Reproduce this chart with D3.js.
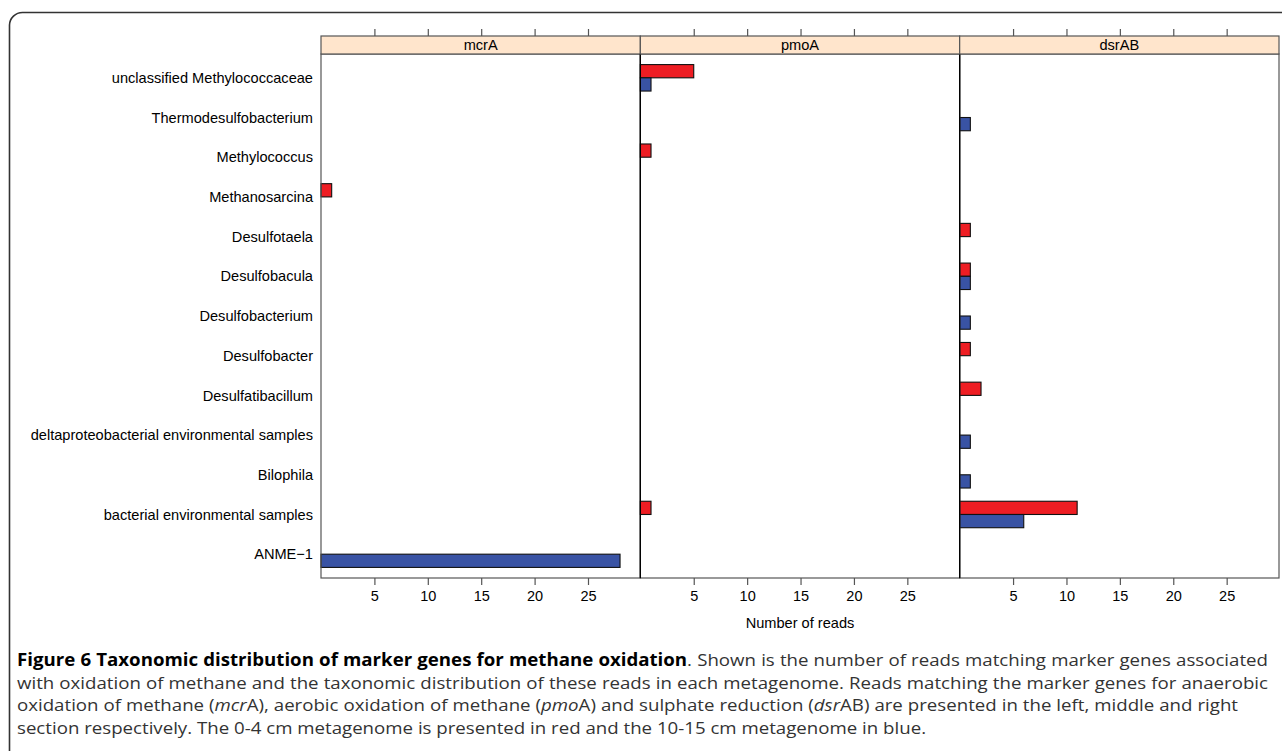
<!DOCTYPE html>
<html>
<head>
<meta charset="utf-8">
<script src="https://cdn.jsdelivr.net/npm/d3@7/dist/d3.min.js"></script>
<style>
  body { margin: 0; background: #fff; }
  svg { display: block; }
</style>
</head>
<body>
<div id="chart"></div>
<script>

// taxa, top to bottom as in the figure
let taxa = ["unclassified Methylococcaceae", "Thermodesulfobacterium", "Methylococcus",
    "Methanosarcina", "Desulfotaela", "Desulfobacula", "Desulfobacterium", "Desulfobacter",
    "Desulfatibacillum", "deltaproteobacterial environmental samples", "Bilophila",
    "bacterial environmental samples", "ANME\u22121"];
let genes = ["mcrA", "pmoA", "dsrAB"];

// 0-4 cm metagenome (red)
let shallowMcrA  = [0, 0, 0, 1, 0, 0, 0, 0, 0, 0, 0, 0, 0];
let shallowPmoA  = [5, 0, 1, 0, 0, 0, 0, 0, 0, 0, 0, 1, 0];
let shallowDsrAB = [0, 0, 0, 0, 1, 1, 0, 1, 2, 0, 0, 11, 0];
// 10-15 cm metagenome (blue)
let deepMcrA  = [0, 0, 0, 0, 0, 0, 0, 0, 0, 0, 0, 0, 28];
let deepPmoA  = [1, 0, 0, 0, 0, 0, 0, 0, 0, 0, 0, 0, 0];
let deepDsrAB = [0, 1, 0, 0, 0, 1, 1, 0, 0, 1, 1, 6, 0];

let tickValues = [5, 10, 15, 20, 25];
let axisTitle = "Number of reads";

let captionLines = [
    [{t: "Figure 6 Taxonomic distribution of marker genes for methane oxidation", b: true},
     {t: ". Shown is the number of reads matching marker genes associated"}],
    [{t: "with oxidation of methane and the taxonomic distribution of these reads in each metagenome. Reads matching the marker genes for anaerobic"}],
    [{t: "oxidation of methane ("}, {t: "mcr", i: true}, {t: "A), aerobic oxidation of methane ("},
     {t: "pmo", i: true}, {t: "A) and sulphate reduction ("}, {t: "dsr", i: true},
     {t: "AB) are presented in the left, middle and right"}],
    [{t: "section respectively. The 0-4 cm metagenome is presented in red and the 10-15 cm metagenome in blue."}]
];

/** Class drawing the three lattice style panels. */
class GenePanels {

  constructor() {
    this.width = 1282;
    this.height = 751;
    this.margin = {top: 54, left: 321, right: 1279, bottom: 578};
    this.svg = d3.select("#chart").append("svg")
        .attr("width", this.width)
        .attr("height", this.height);
    // frame round the figure, open at the right and bottom
    this.svg.append("path")
        .attr("d", "M9.5,760 L9.5,25 A13,13 0 0 1 22.5,12.5 L1290,12.5")
        .attr("fill", "none")
        .attr("stroke", "#333")
        .attr("stroke-width", 1.6);
  }

  update() {
    let series = {
      mcrA: [shallowMcrA, deepMcrA],
      pmoA: [shallowPmoA, deepPmoA],
      dsrAB: [shallowDsrAB, deepDsrAB]
    };
    let colors = ["#ee1d23", "#3953a4"];
    let font = "'Liberation Sans', Arial, sans-serif";

    let panelScale = d3.scaleBand()
        .domain(genes)
        .range([this.margin.left, this.margin.right]);
    let panelW = panelScale.bandwidth();

    let xscale = d3.scaleLinear()
        .domain([0, 29.9])
        .range([0, panelW]);

    let yscale = d3.scalePoint()
        .domain(taxa)
        .range([this.margin.top, this.margin.bottom])
        .padding(0.6);
    let barH = yscale.step() / 3;

    // taxon labels
    let yaxis = d3.axisLeft(yscale).tickSize(0).tickPadding(8);
    let ySel = this.svg.append("g")
        .attr("transform", `translate(${this.margin.left},0)`)
        .call(yaxis);
    ySel.select(".domain").remove();
    ySel.selectAll("text")
        .style("font-family", font)
        .style("font-size", "14.6px")
        .style("fill", "#000");

    genes.forEach((gene) => {
      let g = this.svg.append("g")
          .attr("transform", `translate(${panelScale(gene)},0)`);

      let rows = [];
      series[gene].forEach((vals, s) => {
        vals.forEach((v, i) => {
          if (v > 0) rows.push({taxon: taxa[i], value: v, s: s});
        });
      });

      g.selectAll("rect.bar").data(rows).enter()
          .append("rect")
          .attr("class", "bar")
          .attr("x", xscale(0))
          .attr("y", d => yscale(d.taxon) - barH + d.s * barH)
          .attr("width", d => xscale(d.value) - xscale(0))
          .attr("height", barH)
          .attr("fill", d => colors[d.s])
          .attr("stroke", "#111")
          .attr("stroke-width", 1.1);

      // panel border
      g.append("rect")
          .attr("x", 0).attr("y", this.margin.top)
          .attr("width", panelW)
          .attr("height", this.margin.bottom - this.margin.top)
          .attr("fill", "none")
          .attr("stroke", "#555")
          .attr("stroke-width", 1.2);

      // reference line at the origin
      if (gene != genes[0]) {
        g.append("line")
            .attr("x1", xscale(0)).attr("x2", xscale(0))
            .attr("y1", this.margin.top).attr("y2", this.margin.bottom)
            .attr("stroke", "#000")
            .attr("stroke-width", 1.3);
      }

      // strip
      g.append("rect")
          .attr("x", 0).attr("y", 36)
          .attr("width", panelW).attr("height", 18)
          .attr("fill", "#ffe5cc")
          .attr("stroke", "#555")
          .attr("stroke-width", 1.2);
      g.append("text")
          .attr("x", panelW / 2).attr("y", 50)
          .attr("text-anchor", "middle")
          .style("font-family", font)
          .style("font-size", "14.6px")
          .text(gene);

      let topAxis = d3.axisTop(xscale).tickValues(tickValues).tickFormat("").tickSize(7);
      let topSel = g.append("g").attr("transform", "translate(0,36)").call(topAxis);
      topSel.select(".domain").remove();

      let botAxis = d3.axisBottom(xscale).tickValues(tickValues).tickSize(7).tickPadding(6);
      let botSel = g.append("g").attr("transform", `translate(0,${this.margin.bottom})`).call(botAxis);
      botSel.select(".domain").remove();
      botSel.selectAll("text")
          .style("font-family", font)
          .style("font-size", "14.5px")
          .style("fill", "#000");

      g.selectAll(".tick line").attr("stroke", "#555").attr("stroke-width", 1.2);
    });

    this.svg.append("text")
        .attr("x", (this.margin.left + this.margin.right) / 2)
        .attr("y", 628)
        .attr("text-anchor", "middle")
        .style("font-family", font)
        .style("font-size", "14.6px")
        .text(axisTitle);

    this.caption();
  }

  caption() {
    let left = 17;
    let targets = [1268, 1268, 1238, null];
    let baselines = [666, 688.5, 711, 733.5];
    let capFont = "'Open Sans', 'Noto Sans', sans-serif";
    let fs = 17;

    // squeeze Open Sans a little so the second line fills the width with plain spacing
    let probe = this.svg.append("text")
        .style("font-family", capFont).style("font-size", fs + "px")
        .text(captionLines[1][0].t);
    let k = (1268 - left - 4) / probe.node().getComputedTextLength();
    probe.remove();

    captionLines.forEach((line, li) => {
      let txt = this.svg.append("text")
          .attr("transform", `translate(${left},${baselines[li]}) scale(${k},1)`)
          .style("font-family", capFont)
          .style("font-size", fs + "px")
          .style("fill", "#333");
      line.forEach(part => {
        txt.append("tspan")
            .style("font-weight", part.b ? "bold" : "normal")
            .style("font-style", part.i ? "italic" : "normal")
            .style("fill", part.b ? "#000" : "#333")
            .text(part.t);
      });
      if (targets[li]) {
        let len = txt.node().getComputedTextLength();
        let spaces = line.map(p => p.t).join("").split(" ").length - 1;
        txt.style("word-spacing", (((targets[li] - left) / k - len) / spaces) + "px");
      }
    });
  }
}

let chart = new GenePanels();
chart.update();
</script>
</body>
</html>
